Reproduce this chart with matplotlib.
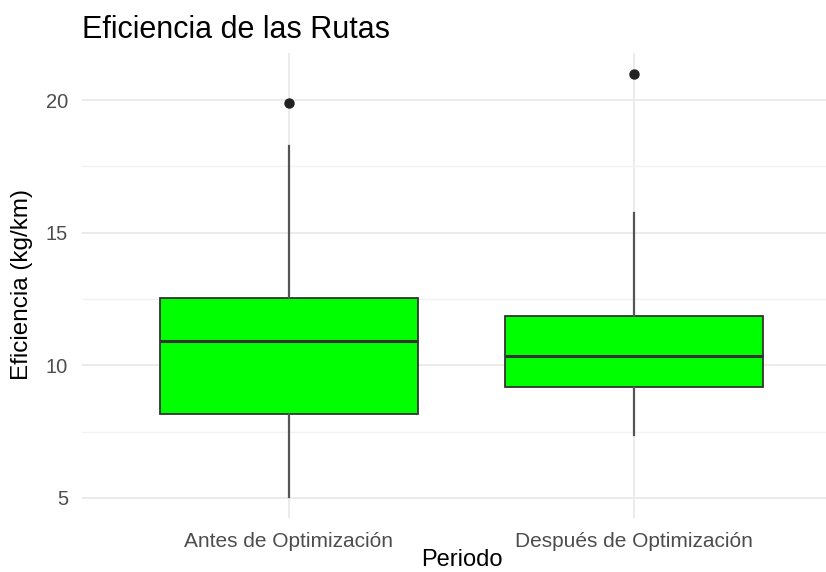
import matplotlib
matplotlib.use("Agg")
import matplotlib.pyplot as plt
from matplotlib.ticker import MultipleLocator

categories = ["Antes de Optimización", "Después de Optimización"]
whisker_low = [5.04, 7.37]
q1 = [8.16, 9.18]
median = [10.92, 10.35]
q3 = [12.54, 11.86]
whisker_high = [18.27, 15.74]
outliers = [[19.89], [20.98]]

plt.rcParams['font.family'] = ['Liberation Sans', 'DejaVu Sans']

fig = plt.figure(figsize=(8.26, 5.72), dpi=100)
W, H = 826, 572
left, right, top, bottom = 82, 841, 52.8, 518
ax = fig.add_axes([left / W, 1 - bottom / H, (right - left) / W, (bottom - top) / H])

stats = []
for i in range(len(categories)):
    stats.append(dict(med=median[i], q1=q1[i], q3=q3[i],
                      whislo=whisker_low[i], whishi=whisker_high[i],
                      fliers=outliers[i], label=categories[i]))

positions = list(range(1, len(categories) + 1))
ax.bxp(stats, positions=positions, widths=0.75, patch_artist=True,
       showcaps=False,
       boxprops=dict(facecolor='#00FF00', edgecolor='#333333', linewidth=1.3),
       medianprops=dict(color='#333333', linewidth=2.2),
       whiskerprops=dict(color='#555555', linewidth=1.6),
       flierprops=dict(marker='o', markerfacecolor='#222222', markeredgecolor='#222222',
                       markersize=6.5),
       zorder=3)

ax.set_xlim(0.4, 2.6)
ax.set_ylim(4.24, 21.78)
ax.yaxis.set_major_locator(MultipleLocator(5))
ax.yaxis.set_minor_locator(MultipleLocator(2.5))
ax.set_xticks(positions)
ax.set_xticklabels(categories)

ax.grid(True, which='major', color='#EBEBEB', linewidth=1.4, zorder=0)
ax.grid(True, which='minor', axis='y', color='#F2F2F2', linewidth=1.0, zorder=0)
ax.set_axisbelow(True)
for s in ax.spines.values():
    s.set_visible(False)
ax.tick_params(axis='both', which='both', length=0)
ax.tick_params(axis='y', labelsize=14.5, labelcolor='#4D4D4D', pad=10)
ax.tick_params(axis='x', labelsize=15, labelcolor='#4D4D4D', pad=10)

fig.text(left / W, 1 - 30 / H, "Eficiencia de las Rutas", fontsize=22, color='black',
         ha='left', va='center')
fig.text((left + right) / 2 / W, 1 - 566 / H, "Periodo", fontsize=17, color='black',
         ha='center', va='baseline')
fig.text(22 / W, 1 - 284 / H, "Eficiencia (kg/km)", fontsize=17.5,
         color='black', rotation=90, ha='center', va='center')

fig.savefig("out.png", dpi=100)
